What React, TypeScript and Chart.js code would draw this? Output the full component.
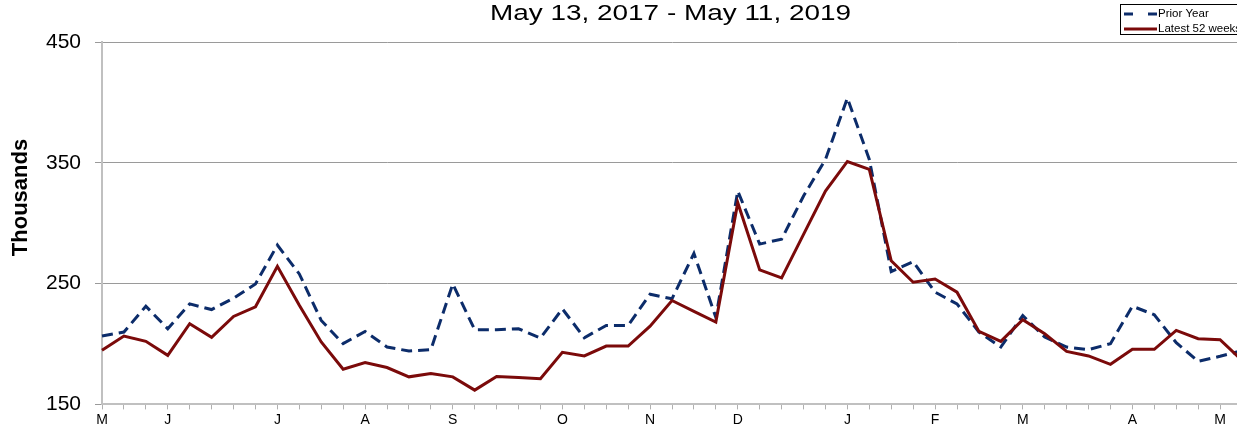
import React, { useEffect, useRef } from "react";
import { Chart, registerables } from "chart.js";

Chart.register(...registerables);

const weekLabels: string[] = [
  "M", "", "", "J", "", "", "", "", "J", "", "", "", "A", "", "", "", "S", "", "", "", "",
  "O", "", "", "", "N", "", "", "", "D", "", "", "", "", "J", "", "", "", "F", "", "", "",
  "M", "", "", "", "", "A", "", "", "", "M", "",
];

const latest52Weeks: number[] = [
  194.8, 206.6, 202.2, 190.6, 216.8, 205.5, 222.8, 230.8, 264.3, 232, 201.7, 179.1, 184.6,
  180.5, 172.8, 175.5, 172.8, 161.8, 173.1, 172.3, 171.2, 193.1, 190.1, 198.3, 198.3, 214.8,
  236, 227, 218.1, 317, 261.3, 254.7, 290.7, 326.6, 351.1, 344.5, 268.9, 251.1, 253.8, 242.9,
  210.4, 202.2, 220.1, 208.5, 193.9, 190.1, 183.2, 195.6, 195.6, 211.3, 204.4, 203.6, 186.5,
];

const priorYear: number[] = [
  206.6, 209.9, 231.3, 212.6, 233.2, 228.5, 237.9, 249.7, 281.9, 258, 219.5, 200.3, 210.4,
  197.5, 194.2, 195.3, 249.7, 211.8, 211.8, 212.6, 205, 229.1, 205.2, 215.4, 215.4, 241.2,
  237.4, 275, 222, 326.6, 282.7, 286.8, 322.5, 352.8, 403.6, 352.8, 259.9, 268.1, 242.9, 233.2,
  209.9, 197.5, 223.6, 205.8, 197.5, 195.3, 200.3, 231.3, 224.2, 201.1, 185.7, 189.8, 194.5,
];

const yTicks: number[] = [150, 250, 350, 450];

const titleText = "May 13, 2017 - May 11, 2019";
const yAxisTitle = "Thousands";
const priorLabel = "Prior Year";
const latestLabel = "Latest 52 weeks";

const RED = "#7b0a0a";
const BLUE = "#0c2c6a";
const FONT = '"Liberation Sans", Arial, sans-serif';

const decorPlugin = {
  id: "decor",
  afterDraw(chart: any) {
    const ctx = chart.ctx as CanvasRenderingContext2D;
    // Title
    ctx.save();
    ctx.font = `22px ${FONT}`;
    ctx.fillStyle = "#000";
    ctx.textBaseline = "middle";
    ctx.textAlign = "center";
    const w = ctx.measureText(titleText).width;
    const target = 361;
    ctx.translate(670.5, 14);
    ctx.scale(target / w, 1);
    ctx.fillText(titleText, 0, 0);
    ctx.restore();

    // Y axis title
    ctx.save();
    ctx.font = `bold 22px ${FONT}`;
    ctx.fillStyle = "#000";
    ctx.textAlign = "center";
    ctx.textBaseline = "middle";
    ctx.translate(21, 197.5);
    ctx.rotate(-Math.PI / 2);
    ctx.fillText(yAxisTitle, 0, 0);
    ctx.restore();

    // Legend
    ctx.save();
    ctx.fillStyle = "#fff";
    ctx.strokeStyle = "#000";
    ctx.lineWidth = 1;
    ctx.fillRect(1120.5, 4.5, 130, 30);
    ctx.strokeRect(1120.5, 4.5, 130, 30);
    ctx.lineWidth = 3;
    ctx.strokeStyle = BLUE;
    ctx.setLineDash([9, 15]);
    ctx.beginPath();
    ctx.moveTo(1124, 14);
    ctx.lineTo(1157, 14);
    ctx.stroke();
    ctx.setLineDash([]);
    ctx.strokeStyle = RED;
    ctx.beginPath();
    ctx.moveTo(1124, 29);
    ctx.lineTo(1157, 29);
    ctx.stroke();
    ctx.font = `11.5px ${FONT}`;
    ctx.fillStyle = "#000";
    ctx.textBaseline = "middle";
    ctx.textAlign = "left";
    ctx.fillText(priorLabel, 1158, 14);
    ctx.fillText(latestLabel, 1158, 29);
    ctx.restore();
  },
};

export default function App() {
  const ref = useRef<HTMLCanvasElement | null>(null);
  useEffect(() => {
    if (!ref.current) return;
    const chart = new Chart(ref.current, {
      type: "line",
      data: {
        labels: weekLabels,
        datasets: [
          {
            label: latestLabel,
            data: latest52Weeks,
            borderColor: RED,
            backgroundColor: RED,
            borderWidth: 3,
            pointRadius: 0,
            tension: 0,
            fill: false,
          },
          {
            label: priorLabel,
            data: priorYear,
            borderColor: BLUE,
            backgroundColor: BLUE,
            borderWidth: 3,
            borderDash: [11, 6],
            pointRadius: 0,
            tension: 0,
            fill: false,
          },
        ],
      },
      options: {
        responsive: false,
        animation: false,
        layout: { padding: { left: 0, right: 98, top: 42, bottom: 0 } },
        plugins: {
          legend: { display: false },
          title: { display: false },
          tooltip: { enabled: false },
        },
        scales: {
          x: {
            type: "category",
            offset: false,
            afterFit: (s: any) => {
              s.height = 25;
            },
            grid: {
              drawOnChartArea: false,
              drawTicks: true,
              tickLength: 5,
              color: "#b0b0b0",
            },
            border: { display: true, color: "#c0c0c0", width: 2 },
            ticks: {
              autoSkip: false,
              maxRotation: 0,
              minRotation: 0,
              padding: 2,
              color: "#000",
              font: { family: FONT, size: 14 },
            },
          },
          y: {
            min: 150,
            max: 450,
            afterFit: (s: any) => {
              s.width = 102;
            },
            afterBuildTicks: (s: any) => {
              s.ticks = yTicks.map((v) => ({ value: v }));
            },
            grid: {
              color: "#9a9a9a",
              lineWidth: 1,
              drawTicks: true,
              tickLength: 7,
            },
            border: { display: true, color: "#c0c0c0", width: 2 },
            ticks: {
              padding: 14,
              color: "#000",
              font: { family: FONT, size: 21 },
            },
          },
        },
      },
      plugins: [decorPlugin],
    });
    return () => chart.destroy();
  }, []);
  return (
    <div
      style={{
        position: "fixed",
        left: 0,
        top: 0,
        width: 1237,
        height: 431,
        overflow: "hidden",
        background: "#fff",
      }}
    >
      <canvas ref={ref} width={1340} height={431} style={{ display: "block" }} />
    </div>
  );
}
